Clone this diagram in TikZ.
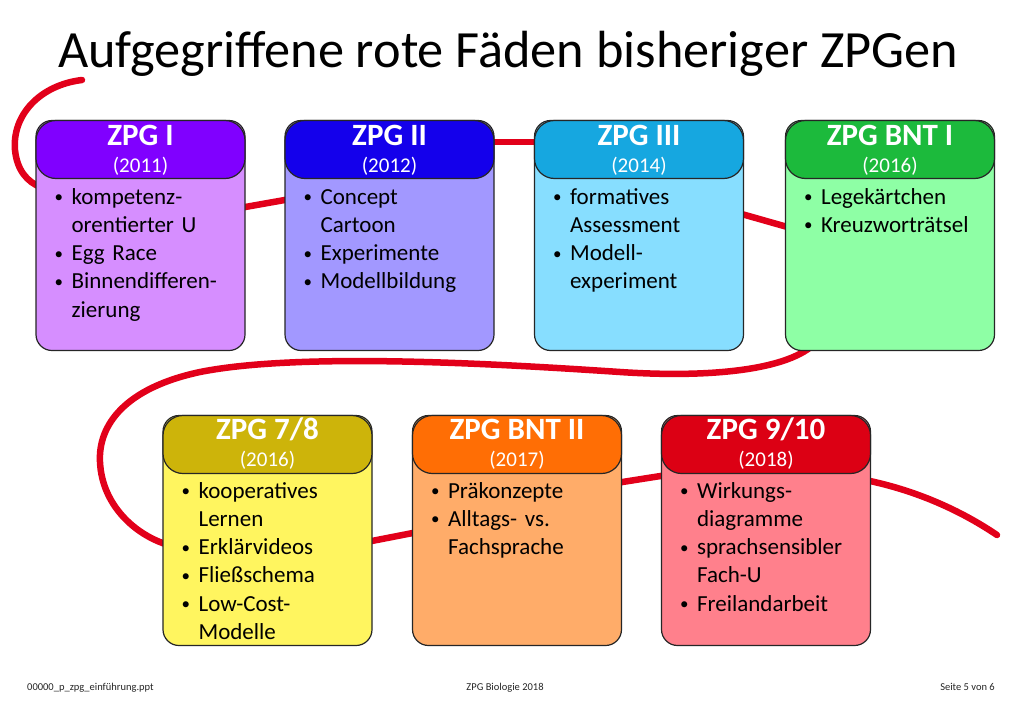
\documentclass[tikz,border=0pt]{standalone}
\usepackage{fontspec}
\setmainfont{Carlito}
\usepackage{tikz}
\usetikzlibrary{calc,positioning}
\pgfdeclarelayer{thread}
\pgfsetlayers{thread,main}

\definecolor{threadred}{RGB}{226,0,26}
\definecolor{headI}{RGB}{128,0,255}
\definecolor{bodyI}{RGB}{214,142,255}
\definecolor{headII}{RGB}{20,0,235}
\definecolor{bodyII}{RGB}{162,152,255}
\definecolor{headIII}{RGB}{22,167,224}
\definecolor{bodyIII}{RGB}{135,222,255}
\definecolor{headBNTI}{RGB}{28,186,60}
\definecolor{bodyBNTI}{RGB}{142,255,165}
\definecolor{headVIII}{RGB}{205,180,10}
\definecolor{bodyVIII}{RGB}{255,245,95}
\definecolor{headBNTII}{RGB}{255,110,5}
\definecolor{bodyBNTII}{RGB}{255,172,105}
\definecolor{headX}{RGB}{220,0,20}
\definecolor{bodyX}{RGB}{255,128,140}

\tikzstyle{BodyBox} = [rectangle, draw=black!85, line width=1.2pt, rounded corners=16pt,
    minimum width=209pt, minimum height=230pt, inner sep=0pt]
\tikzstyle{HeadBox} = [rectangle, draw=black!85, line width=1.2pt, rounded corners=20pt,
    minimum width=209pt, minimum height=58pt, inner sep=0pt, anchor=north]
\tikzstyle{HeadName} = [text=white, font=\fontsize{31}{31}\selectfont\bfseries, anchor=base, inner sep=0pt]
\tikzstyle{HeadYear} = [text=white, font=\fontsize{21}{21}\selectfont, anchor=base, inner sep=0pt]
\tikzstyle{ItemList} = [anchor=north west, inner sep=0pt, text width=188pt,
    font=\fontsize{23}{28.2}\selectfont\raggedright]
\tikzstyle{Thread} = [draw=threadred, line width=6.5pt, line cap=round, line join=round]
\tikzstyle{Footer} = [font=\fontsize{10.5}{10.5}\selectfont, text=black!85, inner sep=0pt]

\newcommand{\itm}{\par\leftskip=17pt\noindent
    \llap{\makebox[17pt][l]{\raisebox{1.6pt}{\fontsize{17}{17}\selectfont•}}}\strut}

\begin{document}
\begin{tikzpicture}[x=1pt, y=-1pt]
        \begin{pgfonlayer}{thread}
        \fill [white] (0,0) rectangle (1024,709);
        \end{pgfonlayer}
        \useasboundingbox (0,0) rectangle (1024,709);
        \node [anchor=base west, inner sep=0pt, font=\fontsize{52.3}{52.3}\selectfont] (Title) at (58,67)
            {Aufgegriffene rote Fäden bisheriger ZPGen};

        % first row
        \node [BodyBox, fill=bodyI] (ZPGI) at (140.5,235.5) {};
        \node [HeadBox, fill=headI] (ZPGI-head) at (ZPGI.north) {};
        \node [HeadName] (ZPGI-name) at ([yshift=-26pt]ZPGI.north) {ZPG I};
        \node [HeadYear] (ZPGI-year) at ([yshift=-53pt]ZPGI.north) {(2011)};
        \node [ItemList] (ZPGI-items) at ([xshift=19pt,yshift=-56pt]ZPGI.north west)
            {\itm kompetenz-\\orentierter U\itm Egg Race\itm Binnendifferen-\\zierung\par};

        \node [BodyBox, fill=bodyII] (ZPGII) at (389.5,235.5) {};
        \node [HeadBox, fill=headII] (ZPGII-head) at (ZPGII.north) {};
        \node [HeadName] (ZPGII-name) at ([yshift=-26pt]ZPGII.north) {ZPG II};
        \node [HeadYear] (ZPGII-year) at ([yshift=-53pt]ZPGII.north) {(2012)};
        \node [ItemList] (ZPGII-items) at ([xshift=19pt,yshift=-56pt]ZPGII.north west)
            {\itm Concept\\Cartoon\itm Experimente\itm Modellbildung\par};

        \node [BodyBox, fill=bodyIII] (ZPGIII) at (639,235.5) {};
        \node [HeadBox, fill=headIII] (ZPGIII-head) at (ZPGIII.north) {};
        \node [HeadName] (ZPGIII-name) at ([yshift=-26pt]ZPGIII.north) {ZPG III};
        \node [HeadYear] (ZPGIII-year) at ([yshift=-53pt]ZPGIII.north) {(2014)};
        \node [ItemList] (ZPGIII-items) at ([xshift=19pt,yshift=-56pt]ZPGIII.north west)
            {\itm formatives\\Assessment\itm Modell-\\experiment\par};

        \node [BodyBox, fill=bodyBNTI] (ZPGBNTI) at (890,235.5) {};
        \node [HeadBox, fill=headBNTI] (ZPGBNTI-head) at (ZPGBNTI.north) {};
        \node [HeadName] (ZPGBNTI-name) at ([yshift=-26pt]ZPGBNTI.north) {ZPG BNT I};
        \node [HeadYear] (ZPGBNTI-year) at ([yshift=-53pt]ZPGBNTI.north) {(2016)};
        \node [ItemList] (ZPGBNTI-items) at ([xshift=19pt,yshift=-56pt]ZPGBNTI.north west)
            {\itm Legekärtchen\itm Kreuzworträtsel\par};

        % second row
        \node [BodyBox, fill=bodyVIII] (ZPG78) at (267.5,530.5) {};
        \node [HeadBox, fill=headVIII] (ZPG78-head) at (ZPG78.north) {};
        \node [HeadName] (ZPG78-name) at ([yshift=-25pt]ZPG78.north) {ZPG 7/8};
        \node [HeadYear] (ZPG78-year) at ([yshift=-52pt]ZPG78.north) {(2016)};
        \node [ItemList] (ZPG78-items) at ([xshift=19pt,yshift=-55pt]ZPG78.north west)
            {\itm kooperatives\\Lernen\itm Erklärvideos\itm Fließschema\itm Low-Cost-\\Modelle\par};

        \node [BodyBox, fill=bodyBNTII] (ZPGBNTII) at (517,530.5) {};
        \node [HeadBox, fill=headBNTII] (ZPGBNTII-head) at (ZPGBNTII.north) {};
        \node [HeadName] (ZPGBNTII-name) at ([yshift=-25pt]ZPGBNTII.north) {ZPG BNT II};
        \node [HeadYear] (ZPGBNTII-year) at ([yshift=-52pt]ZPGBNTII.north) {(2017)};
        \node [ItemList] (ZPGBNTII-items) at ([xshift=19pt,yshift=-55pt]ZPGBNTII.north west)
            {\itm Präkonzepte\itm Alltags- vs.\\Fachsprache\par};

        \node [BodyBox, fill=bodyX] (ZPG910) at (766,530.5) {};
        \node [HeadBox, fill=headX] (ZPG910-head) at (ZPG910.north) {};
        \node [HeadName] (ZPG910-name) at ([yshift=-25pt]ZPG910.north) {ZPG 9/10};
        \node [HeadYear] (ZPG910-year) at ([yshift=-52pt]ZPG910.north) {(2018)};
        \node [ItemList] (ZPG910-items) at ([xshift=19pt,yshift=-55pt]ZPG910.north west)
            {\itm Wirkungs-\\diagramme\itm sprachsensibler\\Fach-U\itm Freilandarbeit\par};

        % red thread behind the boxes
        \coordinate (ThreadStart) at (82,80);
        \coordinate (ThreadEnd) at (997,535);
        \begin{pgfonlayer}{thread}
        \draw [Thread] (ThreadStart) .. controls (40,85) and (12,115) .. (15,150)
            .. controls (17,170) and (27,182) .. ([xshift=6pt,yshift=48pt]ZPGI.west); %into ZPG I
        \draw [Thread] ([xshift=-6pt,yshift=27.5pt]ZPGI.east) -- ([xshift=6pt,yshift=36.5pt]ZPGII.west);
        \draw [Thread] ([xshift=-6pt,yshift=93.5pt]ZPGII.east) -- ([xshift=6pt,yshift=93.5pt]ZPGIII.west);
        \draw [Thread] ([xshift=-6pt,yshift=22.5pt]ZPGIII.east) -- ([xshift=6pt,yshift=7.5pt]ZPGBNTI.west);
        \draw [Thread] ([xshift=-77pt,yshift=6pt]ZPGBNTI.south) .. controls (785,370) and (710,378) .. (620,372)
            .. controls (500,364) and (300,352) .. (200,372)
            .. controls (125,388) and (98,425) .. (100,462)
            .. controls (102,505) and (135,535) .. ([xshift=6pt,yshift=-14.5pt]ZPG78.west); %loop to second row
        \draw [Thread] ([xshift=-6pt,yshift=-11.5pt]ZPG78.east) -- ([xshift=6pt,yshift=-1.5pt]ZPGBNTII.west);
        \draw [Thread] ([xshift=-6pt,yshift=47.5pt]ZPGBNTII.east) -- ([xshift=6pt,yshift=55.5pt]ZPG910.west);
        \draw [Thread] ([xshift=-6pt,yshift=50.5pt]ZPG910.east) .. controls (915,490) and (960,510) .. (ThreadEnd);
        \end{pgfonlayer}

        % footer
        \node [Footer, anchor=base west] (FootFile) at (27,690) {00000\_p\_zpg\_einführung.ppt};
        \node [Footer, anchor=base] (FootTitle) at (505,690) {ZPG Biologie 2018};
        \node [Footer, anchor=base east] (FootPage) at (995,690) {Seite 5 von 6};
    \end{tikzpicture}
\end{document}
